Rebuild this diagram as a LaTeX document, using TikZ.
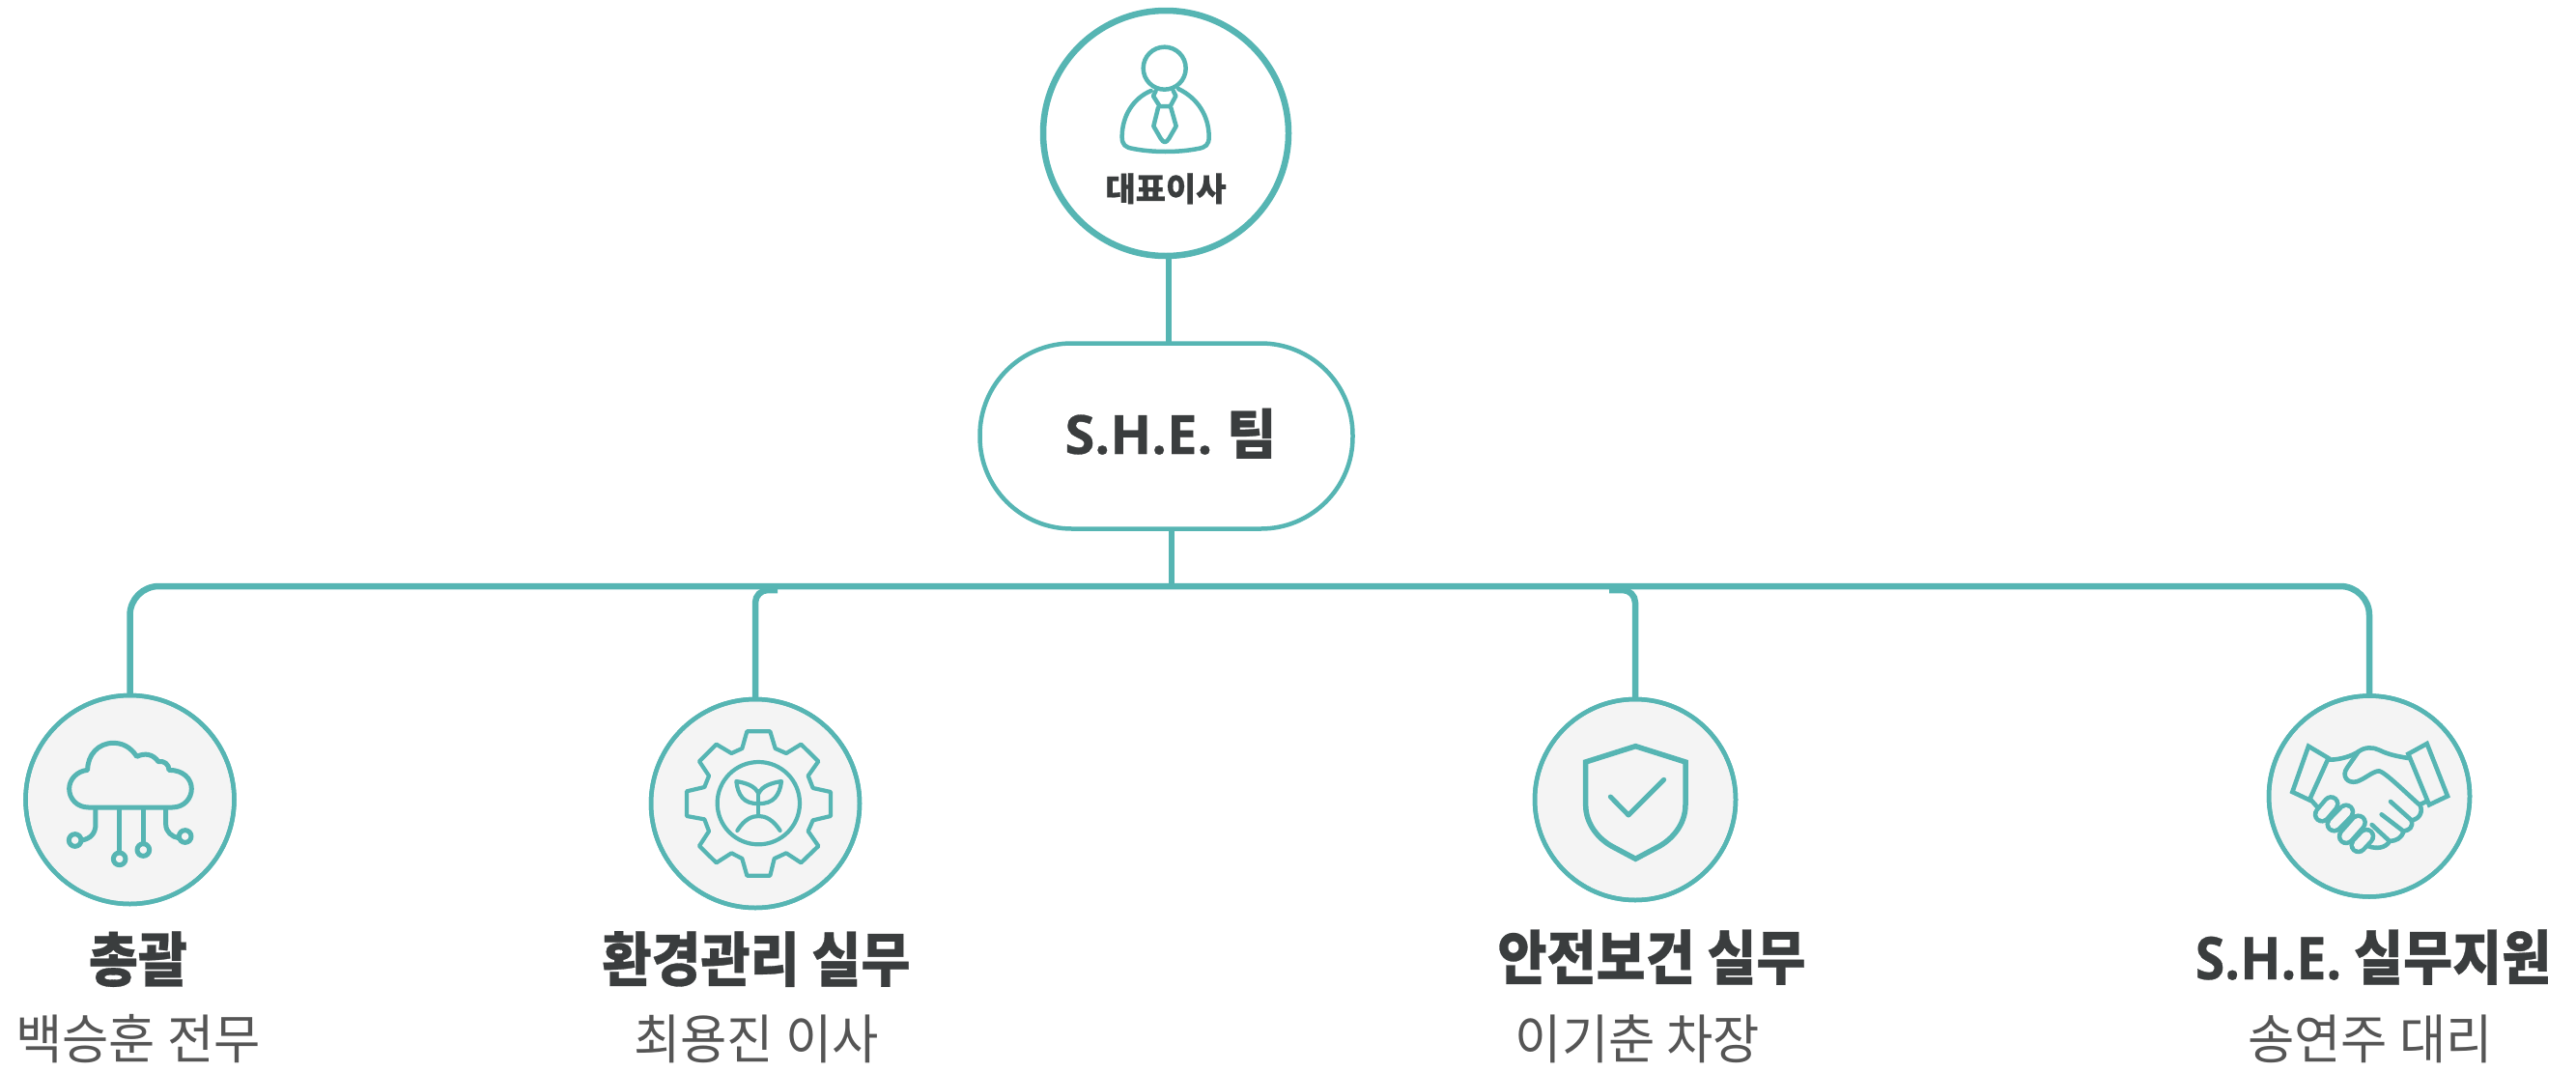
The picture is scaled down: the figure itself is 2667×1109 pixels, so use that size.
\documentclass[tikz,border=0pt]{standalone}
\usepackage{fontspec}
\newfontfamily\krfont[BoldFeatures={FakeBold=0.5}]{Noto Sans CJK KR}
\newfontfamily\latfont[BoldFeatures={FakeBold=0.5}]{Open Sans}
\definecolor{teal1}{HTML}{56B5B3}
\definecolor{disc}{HTML}{F4F4F4}
\definecolor{ink}{HTML}{3A3D3E}
\definecolor{subink}{HTML}{555555}
\tikzset{
  conn/.style={draw=teal1,line width=6.5pt},
  disc1/.style={circle,draw=teal1,fill=disc,line width=4.5pt,inner sep=0pt,outer sep=0pt},
  icon/.style={draw=teal1,line join=round,line cap=round},
  head/.style={anchor=base,inner sep=0pt,text=ink,yscale=1.1,transform shape,font=\krfont\bfseries\fontsize{55.5pt}{60pt}\selectfont},
  sub/.style={anchor=base,inner sep=0pt,text=subink,yscale=1.05,transform shape,font=\krfont\fontsize{52.5pt}{56pt}\selectfont},
  zoomed/.style={x=0.33333pt,y=-0.33333pt},
}
\begin{document}
\begin{tikzpicture}[x=1pt,y=-1pt]
\useasboundingbox (0,0) rectangle (2667,1109);
\fill[white] (0,0) rectangle (2667,1109);
% nodes
\node[circle,draw=teal1,fill=white,line width=6.5pt,minimum size=254pt,inner sep=0pt,outer sep=0pt] (ceo) at (1207,138) {};
\node[rectangle,rounded corners=95pt,draw=teal1,fill=white,line width=4.5pt,minimum width=386pt,minimum height=192pt,inner sep=0pt,outer sep=0pt] (team) at (1207.5,451.5) {};
\node[disc1,minimum size=216pt] (c1) at (134.5,828) {};
\node[disc1,minimum size=216pt] (c2) at (782,832) {};
\node[disc1,minimum size=208pt] (c3) at (1693,828) {};
\node[disc1,minimum size=208pt] (c4) at (2453,824.5) {};
% connectors
\coordinate (ceoOut) at (1210,266);
\coordinate (teamIn) at (1210,354);
\coordinate (teamOut) at (1213,549);
\coordinate (bus) at (1213,607);
\coordinate (busA) at (805,611);
\coordinate (busB) at (1666,611);
\draw[conn] (ceoOut) -- (teamIn);
\draw[conn] (teamOut) -- (bus);
\draw[conn,rounded corners=30pt] (c1.north) -- (c1.north |- bus) -- (c4.north |- bus) -- (c4.north);
\draw[conn,rounded corners=13pt] (c2.north) -- (c2.north |- busA) -- (busA);
\draw[conn,rounded corners=13pt] (c3.north) -- (c3.north |- busB) -- (busB);
% redraw rims so that connector ends sit under them
\draw[teal1,line width=4.5pt] (c1) circle[radius=108];
\draw[teal1,line width=4.5pt] (c2) circle[radius=108];
\draw[teal1,line width=4.5pt] (c3) circle[radius=104];
\draw[teal1,line width=4.5pt] (c4) circle[radius=104];
% texts
\node[anchor=base,inner sep=0pt,text=ink,font=\krfont\bfseries\fontsize{34pt}{38pt}\selectfont] (ceoT) at (1207,208) {대표이사};
\node[anchor=base,inner sep=0pt,text=ink,font=\latfont\bfseries\fontsize{56pt}{60pt}\selectfont] (teamT) at (1212,470) {S.H.E. {\krfont 팀}};
\node[head] (t1) at (143,1016) {총괄};
\node[head] (t2) at (783,1016) {환경관리 실무};
\node[head] (t3) at (1710,1014) {안전보건 실무};
\node[head] (t4) at (2457,1014) {{\latfont S.H.E.} 실무지원};
\node[sub] (s1) at (143,1096) {백승훈 전무};
\node[sub] (s2) at (783,1096) {최용진 이사};
\node[sub] (s3) at (1695.5,1096) {이기춘 차장};
\node[sub] (s4) at (2454,1096) {송연주 대리};
% CEO icon
\begin{scope}[shift={(1040,0)},zoomed,icon,line width=4.5pt]
\draw (497,212) circle[radius=66];
\draw (455,282) .. controls (400,305) and (365,360) .. (365,425) .. controls (365,450) and (375,458) .. (400,462) .. controls (460,474) and (540,474) .. (600,462) .. controls (625,458) and (635,450) .. (635,425) .. controls (635,360) and (600,305) .. (540,276);
\draw (470,282) -- (462,298) -- (482,330) -- (515,330) -- (532,298) -- (524,282);
\draw (477,335) -- (463,392) -- (485,430) .. controls (495,445) and (501,445) .. (511,430) -- (533,392) -- (517,335);
\end{scope}
% cloud icon
\begin{scope}[shift={(0,690)},zoomed,icon,line width=5pt]
\draw (275,438) -- (535,438) .. controls (572,438) and (595,410) .. (595,380) .. controls (595,350) and (570,322) .. (525,322) .. controls (525,305) and (510,292) .. (492,296) .. controls (475,272) and (450,268) .. (425,280) .. controls (405,250) and (380,238) .. (352,238) .. controls (305,238) and (272,275) .. (272,322) .. controls (240,325) and (215,350) .. (215,380) .. controls (215,412) and (240,438) .. (275,438) -- cycle;
\draw (297,445) -- (297,490) .. controls (297,520) and (280,535) .. (255,540);
\draw (233,540) circle[radius=19];
\draw (371,445) -- (371,578);
\draw (371,598) circle[radius=19];
\draw (445,445) -- (445,550);
\draw (445,570) circle[radius=19];
\draw (515,445) -- (515,490) .. controls (515,515) and (535,530) .. (555,533);
\draw (575,528) circle[radius=19];
\end{scope}
% gear icon
\begin{scope}[shift={(650,590)},zoomed,icon,line width=4.2pt]
\draw (370,502) -- (442,502) -- (458,555) -- (492,570) -- (538,542) -- (592,595) -- (560,640) -- (575,678) -- (630,690) -- (630,765) -- (575,778) -- (560,812) -- (592,858) -- (538,910) -- (492,880) -- (455,897) -- (442,950) -- (370,950) -- (355,897) -- (322,880) -- (275,910) -- (222,858) -- (252,812) -- (238,775) -- (183,765) -- (183,688) -- (238,675) -- (252,640) -- (222,595) -- (275,542) -- (322,570) -- (355,555) -- cycle;
\draw (406,725) circle[radius=128];
\draw (406,695) .. controls (395,670) and (365,662) .. (337,657) .. controls (342,700) and (360,728) .. (406,726) .. controls (452,728) and (472,700) .. (477,657) .. controls (449,662) and (417,670) .. (406,695);
\draw (406,695) -- (406,765);
\draw (340,810) .. controls (362,775) and (385,765) .. (406,765) .. controls (427,765) and (450,775) .. (473,810);
\end{scope}
% shield icon
\begin{scope}[shift={(1560,590)},zoomed,icon]
\draw[line width=5.5pt,line join=miter] (400,548) -- (555,597) -- (555,730) .. controls (555,790) and (515,835) .. (475,858) -- (400,898) -- (325,858) .. controls (285,835) and (245,790) .. (245,730) -- (245,597) -- cycle;
\draw[line width=5pt] (322,705) -- (378,762) -- (488,652);
\end{scope}
% handshake icon
\begin{scope}[shift={(2320,590)},zoomed,icon,line width=4.6pt]
\draw[line join=miter] (210,548) -- (272,585) -- (213,715) -- (160,690) -- cycle;
\draw[line join=miter] (578,540) -- (520,572) -- (585,730) -- (642,703) -- cycle;
\draw (275,590) .. controls (310,590) and (345,578) .. (365,565) .. controls (385,550) and (410,550) .. (430,560) .. controls (460,575) and (490,580) .. (520,585);
\draw (365,565) -- (330,615) .. controls (312,640) and (330,665) .. (360,658) .. controls (385,650) and (410,625) .. (430,625) .. controls (450,630) and (520,700) .. (555,730) -- (575,720);
\draw (555,728) .. controls (568,750) and (555,775) .. (530,778) -- (465,720);
\draw (530,778) .. controls (535,800) and (525,808) .. (505,812) -- (437,760);
\draw (505,812) .. controls (500,835) and (480,842) .. (462,843) -- (407,792);
\draw (462,843) .. controls (450,865) and (420,868) .. (395,858);
\draw (218,715) -- (240,740);
\foreach \ax/\ay/\bx/\by in {252/760/280/727, 290/790/327/752, 327/828/365/785, 365/855/390/828}{
  \draw[line width=18.5pt] (\ax,\ay) -- (\bx,\by);
  \draw[disc,line width=9.5pt] (\ax,\ay) -- (\bx,\by);
}
\end{scope}
\end{tikzpicture}
\end{document}
